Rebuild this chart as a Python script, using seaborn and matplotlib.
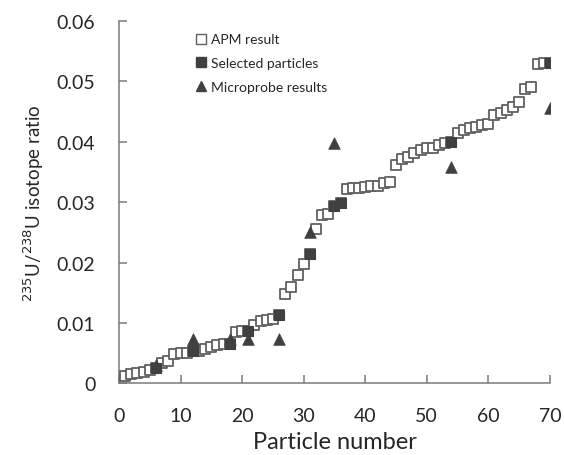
"""
Uranium isotope ratio per particle - APM vs selected vs microprobe
"""

import matplotlib
matplotlib.use("Agg")
import matplotlib.pyplot as plt
import seaborn as sns
import pandas as pd
from matplotlib.lines import Line2D

# ---------- DATA ----------
apm_particle = list(range(1, 71))
apm_ratio = [
    0.0013, 0.0015, 0.0017, 0.0019, 0.0022, 0.0026, 0.0033, 0.0037, 0.0048, 0.0050,
    0.0051, 0.0053, 0.0054, 0.0057, 0.0060, 0.0064, 0.0065, 0.0066, 0.0085, 0.0087,
    0.0087, 0.0097, 0.0103, 0.0105, 0.0107, 0.0113, 0.0148, 0.0160, 0.0180, 0.0198,
    0.0215, 0.0256, 0.0278, 0.0280, 0.0293, 0.0299, 0.0322, 0.0323, 0.0324, 0.0325,
    0.0326, 0.0327, 0.0332, 0.0334, 0.0362, 0.0372, 0.0375, 0.0381, 0.0387, 0.0389,
    0.0390, 0.0394, 0.0398, 0.0400, 0.0415, 0.0420, 0.0423, 0.0425, 0.0427, 0.0430,
    0.0444, 0.0448, 0.0452, 0.0458, 0.0465, 0.0488, 0.0490, 0.0529, 0.0530, 0.0531,
]

selected_particle = [6, 12, 18, 21, 26, 31, 35, 36, 54, 70]
selected_ratio = [0.0026, 0.0053, 0.0066, 0.0087, 0.0113, 0.0215, 0.0293, 0.0299, 0.0400, 0.0531]

micro_particle = [6, 12, 18, 21, 26, 31, 35, 54, 70]
micro_ratio = [0.0031, 0.0073, 0.0073, 0.0073, 0.0073, 0.0250, 0.0398, 0.0359, 0.0455]

apm_df = pd.DataFrame({"particle": apm_particle, "ratio": apm_ratio})
sel_df = pd.DataFrame({"particle": selected_particle, "ratio": selected_ratio})
mic_df = pd.DataFrame({"particle": micro_particle, "ratio": micro_ratio})

# ---------- PLOT ----------
sns.set_style("ticks")
plt.rcParams["font.family"] = ["Lato", "DejaVu Sans"]

dark = "#404040"
edge = "#606060"

fig = plt.figure(figsize=(5.64, 4.56), dpi=100)
ax = fig.add_axes([0.211, 0.157, 0.764, 0.795])

sns.scatterplot(x="particle", y="ratio", data=apm_df, marker="s", s=55,
                facecolor="white", edgecolor=edge, linewidth=1.3, ax=ax, zorder=3)
sns.scatterplot(x="particle", y="ratio", data=sel_df, marker="s", s=60,
                color=dark, edgecolor=dark, linewidth=0.8, ax=ax, zorder=4)
sns.scatterplot(x="particle", y="ratio", data=mic_df, marker="^", s=70,
                color=dark, edgecolor=dark, linewidth=0.5, ax=ax, zorder=5)

ax.set_xlim(0, 70)
ax.set_ylim(0, 0.06)
ax.set_xticks(range(0, 71, 10))
ax.set_yticks([0, 0.01, 0.02, 0.03, 0.04, 0.05, 0.06])
ax.set_yticklabels(["0", "0.01", "0.02", "0.03", "0.04", "0.05", "0.06"])

sns.despine(ax=ax)
for sp in ("left", "bottom"):
    ax.spines[sp].set_color("#7a7a7a")
    ax.spines[sp].set_linewidth(1.1)
ax.tick_params(axis="both", direction="in", length=6, width=1.1, color="#7a7a7a",
               labelsize=14, labelcolor="#262626", pad=17)

ax.set_xlabel("Particle number", fontsize=17, color="#262626", labelpad=5)
ax.set_ylabel("$^{235}$U/$^{238}$U isotope ratio", fontsize=13.5, color="#262626", labelpad=8)

handles = [
    Line2D([], [], marker="s", linestyle="none", markersize=7, markerfacecolor="white",
           markeredgecolor=edge, markeredgewidth=1.0, label="APM result"),
    Line2D([], [], marker="s", linestyle="none", markersize=7, markerfacecolor=dark,
           markeredgecolor=dark, label="Selected particles"),
    Line2D([], [], marker="^", linestyle="none", markersize=7, markerfacecolor=dark,
           markeredgecolor=dark, label="Microprobe results"),
]
ax.legend(handles=handles, loc="upper left", bbox_to_anchor=(0.152, 1.0), frameon=False,
          fontsize=10, handlelength=0.6, handletextpad=0.4, labelspacing=0.85,
          labelcolor="#262626")

plt.savefig("out.png", dpi=100)
plt.close()
